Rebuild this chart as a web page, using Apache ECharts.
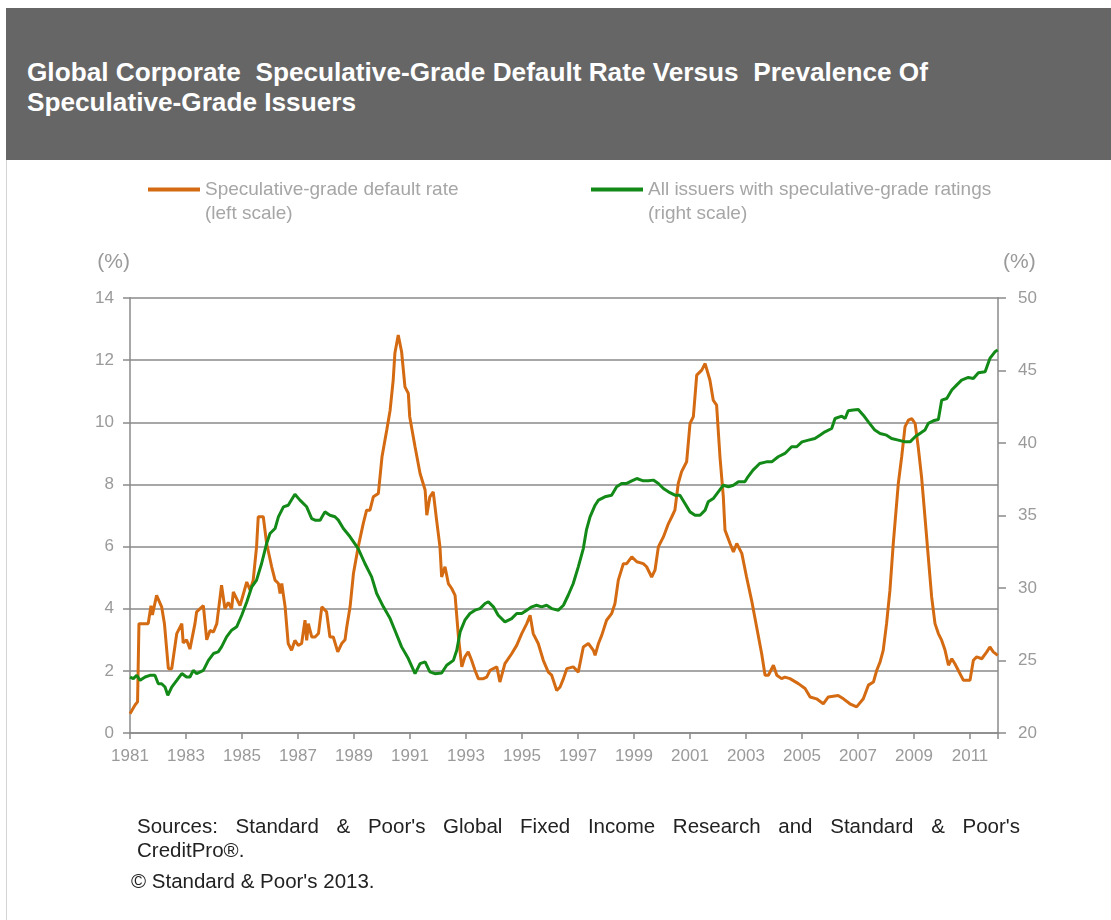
<!DOCTYPE html>
<html>
<head>
<meta charset="utf-8">
<script src="https://cdn.jsdelivr.net/npm/echarts@6/dist/echarts.min.js"></script>
<style>
  html, body { margin: 0; padding: 0; background: #fff; }
  body { width: 1111px; height: 920px; position: relative; overflow: hidden; font-family: "Liberation Sans", Arial, sans-serif; }
  #chart { position: absolute; left: 0; top: 0; width: 1111px; height: 920px; }
  .frame { position: absolute; left: 6px; top: 8px; width: 1px; height: 912px; background: #d4d4d4; }
  .header { position: absolute; left: 6px; top: 8px; width: 1105px; height: 152px; background: #666666; }
  .title { position: absolute; left: 21px; top: 49px; color: #fff; font-weight: bold; font-size: 26.2px; line-height: 30px; white-space: pre; }
  .source { position: absolute; left: 137px; font-size: 20.5px; line-height: 24px; color: #222; white-space: nowrap; }
  .justify { width: 883px; text-align: justify; text-align-last: justify; white-space: normal; }
</style>
</head>
<body>
<div id="chart"></div>
<div class="frame"></div>
<div class="header"><div class="title">Global Corporate  Speculative-Grade Default Rate Versus  Prevalence Of
Speculative-Grade Issuers</div></div>
<div class="source justify" style="top:814px">Sources: Standard &amp; Poor's Global Fixed Income Research and Standard &amp; Poor's</div>
<div class="source" style="top:838px">CreditPro®.</div>
<div class="source" style="top:869px;left:131px">© Standard &amp; Poor's 2013.</div>

<script>
// time in years after January 1981
const BASE_YEAR = 1981
const xTicks = [0, 2, 4, 6, 8, 10, 12, 14, 16, 18, 20, 22, 24, 26, 28, 30]

// speculative-grade default rate (left scale, %)
const defaultT = [
  0.00, 0.18, 0.27, 0.32, 0.65, 0.75, 0.80, 0.95, 1.13, 1.23, 1.37, 1.49, 1.67, 1.85, 1.90, 2.02,
  2.14, 2.32, 2.38, 2.62, 2.74, 2.86, 2.98, 3.10, 3.27, 3.39, 3.51, 3.63, 3.69, 3.93, 4.17, 4.29,
  4.40, 4.52, 4.58, 4.76, 4.88, 5.06, 5.18, 5.30, 5.36, 5.42, 5.54, 5.65, 5.77, 5.83, 5.89, 6.01,
  6.13, 6.25, 6.31, 6.37, 6.49, 6.61, 6.73, 6.85, 7.02, 7.14, 7.26, 7.42, 7.56, 7.68, 7.74, 7.80,
  7.86, 7.98, 8.15, 8.33, 8.45, 8.57, 8.69, 8.87, 9.00, 9.17, 9.29, 9.40, 9.46, 9.58, 9.70, 9.82,
  9.94, 9.99, 10.18, 10.36, 10.54, 10.60, 10.71, 10.83, 10.95, 11.07, 11.13, 11.25, 11.37, 11.49, 11.61, 11.73,
  11.85, 11.96, 12.08, 12.20, 12.32, 12.44, 12.62, 12.74, 12.86, 13.10, 13.21, 13.27, 13.39, 13.63, 13.81, 13.99,
  14.17, 14.29, 14.40, 14.58, 14.76, 14.94, 15.06, 15.24, 15.36, 15.48, 15.60, 15.83, 16.01, 16.19, 16.37, 16.55,
  16.61, 16.73, 16.85, 17.02, 17.20, 17.32, 17.44, 17.62, 17.74, 17.92, 18.10, 18.33, 18.45, 18.63, 18.75, 18.87,
  19.05, 19.23, 19.35, 19.46, 19.58, 19.70, 19.88, 20.00, 20.12, 20.24, 20.42, 20.54, 20.71, 20.83, 20.95, 21.07,
  21.19, 21.25, 21.43, 21.55, 21.67, 21.85, 22.02, 22.20, 22.38, 22.56, 22.68, 22.80, 22.98, 23.10, 23.27, 23.39,
  23.57, 23.63, 23.87, 24.11, 24.29, 24.52, 24.76, 24.94, 25.29, 25.48, 25.71, 25.95, 26.19, 26.37, 26.55, 26.67,
  26.79, 26.90, 27.02, 27.14, 27.26, 27.44, 27.56, 27.68, 27.80, 27.92, 28.04, 28.15, 28.27, 28.39, 28.51, 28.63,
  28.75, 28.87, 28.99, 29.11, 29.23, 29.35, 29.46, 29.58, 29.76, 29.88, 30.00, 30.12, 30.24, 30.42, 30.60, 30.71,
  30.83, 30.99
]
const defaultRate = [
  0.62, 0.90, 1.00, 3.52, 3.52, 4.10, 3.80, 4.43, 4.06, 3.52, 2.07, 2.07, 3.20, 3.52, 2.90, 3.00,
  2.70, 3.52, 3.90, 4.10, 3.00, 3.30, 3.25, 3.52, 4.76, 4.00, 4.20, 4.00, 4.54, 4.10, 4.86, 4.60,
  4.92, 5.99, 6.96, 6.96, 6.10, 5.35, 4.92, 4.81, 4.49, 4.81, 4.06, 2.88, 2.66, 2.61, 2.98, 2.82,
  2.88, 3.63, 2.98, 3.52, 3.09, 3.09, 3.20, 4.06, 3.90, 3.09, 3.09, 2.61, 2.88, 3.00, 3.40, 3.35,
  4.06, 5.13, 5.99, 6.74, 7.17, 7.17, 7.60, 7.71, 8.89, 9.75, 10.39, 11.36, 12.22, 12.81, 12.27, 11.14,
  10.93, 10.18, 9.21, 8.35, 7.82, 7.01, 7.60, 7.76, 6.85, 5.99, 5.02, 5.35, 4.81, 4.65, 4.43, 3.09,
  2.13, 2.45, 2.61, 2.34, 2.02, 1.75, 1.75, 1.80, 2.02, 2.13, 1.64, 1.59, 2.23, 2.55, 2.82, 3.20,
  3.52, 3.79, 3.20, 2.88, 2.34, 1.96, 1.86, 1.37, 1.48, 1.75, 2.07, 2.13, 1.96, 2.77, 2.88, 2.66,
  2.50, 2.88, 3.15, 3.63, 3.84, 4.17, 4.92, 5.45, 5.45, 5.67, 5.51, 5.45, 5.35, 5.02, 5.24, 5.99,
  6.31, 6.74, 6.96, 7.17, 8.03, 8.41, 8.73, 9.96, 10.18, 11.52, 11.68, 11.89, 11.36, 10.71, 10.55, 8.89,
  7.60, 6.53, 6.10, 5.83, 6.10, 5.78, 5.02, 4.27, 3.41, 2.55, 1.86, 1.86, 2.18, 1.86, 1.75, 1.80,
  1.75, 1.80, 1.59, 1.43, 1.16, 1.10, 0.94, 1.16, 1.21, 1.10, 0.94, 0.84, 1.10, 1.54, 1.64, 2.02,
  2.29, 2.66, 3.52, 4.59, 6.10, 8.03, 8.89, 9.86, 10.07, 10.12, 9.96, 9.21, 8.24, 6.96, 5.67, 4.38,
  3.52, 3.20, 2.98, 2.66, 2.18, 2.39, 2.23, 2.02, 1.70, 1.70, 1.70, 2.34, 2.45, 2.39, 2.61, 2.77,
  2.61, 2.50
]

// share of all issuers with speculative-grade ratings (right scale, %)
const issuersT = [
  0.00, 0.12, 0.24, 0.36, 0.54, 0.71, 0.89, 1.01, 1.13, 1.25, 1.35, 1.49, 1.67, 1.85, 2.02, 2.14,
  2.26, 2.38, 2.62, 2.80, 2.98, 3.15, 3.27, 3.45, 3.63, 3.81, 3.99, 4.17, 4.35, 4.52, 4.70, 4.88,
  5.00, 5.18, 5.30, 5.48, 5.65, 5.89, 6.07, 6.31, 6.49, 6.61, 6.79, 6.96, 7.14, 7.32, 7.44, 7.62,
  7.86, 8.15, 8.39, 8.63, 8.81, 9.05, 9.29, 9.46, 9.70, 9.94, 10.18, 10.36, 10.54, 10.71, 10.89, 11.13,
  11.31, 11.55, 11.67, 11.79, 11.96, 12.14, 12.32, 12.50, 12.68, 12.80, 12.98, 13.15, 13.39, 13.63, 13.81, 13.99,
  14.17, 14.35, 14.52, 14.70, 14.88, 15.06, 15.30, 15.48, 15.65, 15.83, 16.01, 16.19, 16.30, 16.43, 16.61, 16.73,
  16.96, 17.20, 17.38, 17.56, 17.74, 17.92, 18.10, 18.33, 18.51, 18.69, 18.87, 19.05, 19.23, 19.46, 19.64, 19.82,
  20.00, 20.18, 20.36, 20.54, 20.65, 20.83, 21.01, 21.19, 21.37, 21.55, 21.73, 21.96, 22.07, 22.25, 22.49, 22.73,
  22.92, 23.15, 23.39, 23.63, 23.81, 24.00, 24.23, 24.46, 24.64, 24.82, 25.06, 25.18, 25.42, 25.54, 25.65, 25.83,
  26.01, 26.19, 26.37, 26.60, 26.79, 27.02, 27.20, 27.44, 27.68, 27.86, 28.04, 28.21, 28.39, 28.51, 28.69, 28.87,
  28.99, 29.17, 29.35, 29.52, 29.70, 29.94, 30.12, 30.30, 30.54, 30.71, 30.89, 30.99
]
const issuersShare = [
  23.86, 23.75, 23.98, 23.63, 23.86, 23.98, 23.98, 23.40, 23.40, 23.17, 22.60, 23.17, 23.63, 24.10, 23.86, 23.86,
  24.32, 24.10, 24.32, 25.01, 25.48, 25.59, 25.94, 26.63, 27.09, 27.32, 28.12, 29.04, 30.08, 30.54, 31.69, 33.07,
  33.76, 34.10, 34.91, 35.60, 35.71, 36.47, 36.06, 35.60, 34.79, 34.68, 34.68, 35.25, 35.02, 34.91, 34.68, 34.10,
  33.53, 32.72, 31.69, 30.77, 29.62, 28.70, 27.89, 27.09, 25.94, 25.13, 24.09, 24.78, 24.90, 24.21, 24.09, 24.14,
  24.67, 25.01, 25.70, 26.97, 27.78, 28.24, 28.47, 28.58, 28.93, 29.04, 28.70, 28.12, 27.66, 27.89, 28.24, 28.24,
  28.47, 28.70, 28.81, 28.70, 28.81, 28.58, 28.47, 28.81, 29.50, 30.31, 31.46, 32.72, 33.99, 34.91, 35.71, 36.06,
  36.29, 36.40, 36.98, 37.21, 37.21, 37.39, 37.55, 37.39, 37.39, 37.44, 37.21, 36.86, 36.63, 36.40, 36.40, 35.83,
  35.25, 35.02, 35.02, 35.37, 35.94, 36.17, 36.63, 37.09, 36.98, 37.09, 37.33, 37.33, 37.67, 38.13, 38.59, 38.70,
  38.70, 39.05, 39.28, 39.74, 39.74, 40.08, 40.20, 40.31, 40.54, 40.77, 41.00, 41.69, 41.85, 41.69, 42.22, 42.27,
  42.31, 41.92, 41.46, 40.89, 40.66, 40.54, 40.31, 40.20, 40.08, 40.08, 40.43, 40.66, 40.89, 41.35, 41.53, 41.62,
  42.96, 43.07, 43.65, 43.99, 44.34, 44.52, 44.45, 44.85, 44.92, 45.83, 46.29, 46.41
]

const leftTicks = [0, 2, 4, 6, 8, 10, 12, 14]
const rightTicks = [20, 25, 30, 35, 40, 45, 50]

const AXIS = '#8a8a8a'
const LABEL = '#9a9a9a'
const ORANGE = '#D46B12'
const GREEN = '#138A18'

const chart = echarts.init(document.getElementById('chart'))
chart.setOption({
  animation: false,
  legend: [
    {
      data: ['Speculative-grade default rate'], left: 148, top: 180, padding: 0,
      icon: 'rect', itemWidth: 52, itemHeight: 4,
      textStyle: { color: '#a6a6a6', fontSize: 19, fontFamily: 'Liberation Sans' }
    },
    {
      data: ['All issuers with speculative-grade ratings'], left: 591, top: 180, padding: 0,
      icon: 'rect', itemWidth: 52, itemHeight: 4,
      textStyle: { color: '#a6a6a6', fontSize: 19, fontFamily: 'Liberation Sans' }
    }
  ],
  graphic: [
    { type: 'text', left: 205, top: 204, style: { text: '(left scale)', fill: '#a6a6a6', font: '19px "Liberation Sans"' } },
    { type: 'text', left: 648, top: 204, style: { text: '(right scale)', fill: '#a6a6a6', font: '19px "Liberation Sans"' } }
  ],
  grid: { left: 130, right: 113, top: 298, bottom: 187 },
  xAxis: {
    type: 'value', min: 0, max: 31, interval: 2,
    axisLine: { show: true, lineStyle: { color: AXIS, width: 1.5 } },
    axisTick: { show: true, length: 6, lineStyle: { color: AXIS, width: 1.5 } },
    splitLine: { show: false },
    axisLabel: {
      color: LABEL, fontSize: 17, margin: 15, fontFamily: 'Liberation Sans',
      formatter: v => xTicks.includes(v) ? String(BASE_YEAR + v) : ''
    }
  },
  yAxis: [
    {
      type: 'value', min: leftTicks[0], max: leftTicks[leftTicks.length - 1], interval: 2, position: 'left',
      name: '(%)', nameLocation: 'end', nameGap: 36,
      nameTextStyle: { color: LABEL, fontSize: 21, align: 'right', verticalAlign: 'middle', fontFamily: 'Liberation Sans' },
      axisLine: { show: true, lineStyle: { color: AXIS, width: 1.5 } },
      axisTick: { show: true, length: 7, lineStyle: { color: AXIS, width: 1.5 } },
      splitLine: { show: true, lineStyle: { color: AXIS, width: 1.5 } },
      axisLabel: { color: LABEL, fontSize: 17, margin: 16, fontFamily: 'Liberation Sans' }
    },
    {
      type: 'value', min: rightTicks[0], max: rightTicks[rightTicks.length - 1], interval: 5, position: 'right',
      name: '(%)', nameLocation: 'end', nameGap: 36,
      nameTextStyle: { color: LABEL, fontSize: 21, align: 'left', verticalAlign: 'middle', padding: [0, 0, 0, 5], fontFamily: 'Liberation Sans' },
      axisLine: { show: true, lineStyle: { color: AXIS, width: 1.5 } },
      axisTick: { show: true, length: 8, lineStyle: { color: AXIS, width: 1.5 } },
      splitLine: { show: false },
      axisLabel: { color: LABEL, fontSize: 17, margin: 20, fontFamily: 'Liberation Sans' }
    }
  ],
  series: [
    {
      name: 'Speculative-grade default rate', type: 'line', yAxisIndex: 0,
      data: defaultT.map((t, i) => [t, defaultRate[i]]),
      showSymbol: false, symbol: 'none',
      lineStyle: { color: ORANGE, width: 3 }, itemStyle: { color: ORANGE }
    },
    {
      name: 'All issuers with speculative-grade ratings', type: 'line', yAxisIndex: 1,
      data: issuersT.map((t, i) => [t, issuersShare[i]]),
      showSymbol: false, symbol: 'none',
      lineStyle: { color: GREEN, width: 3 }, itemStyle: { color: GREEN }
    }
  ]
})
</script>
</body>
</html>
